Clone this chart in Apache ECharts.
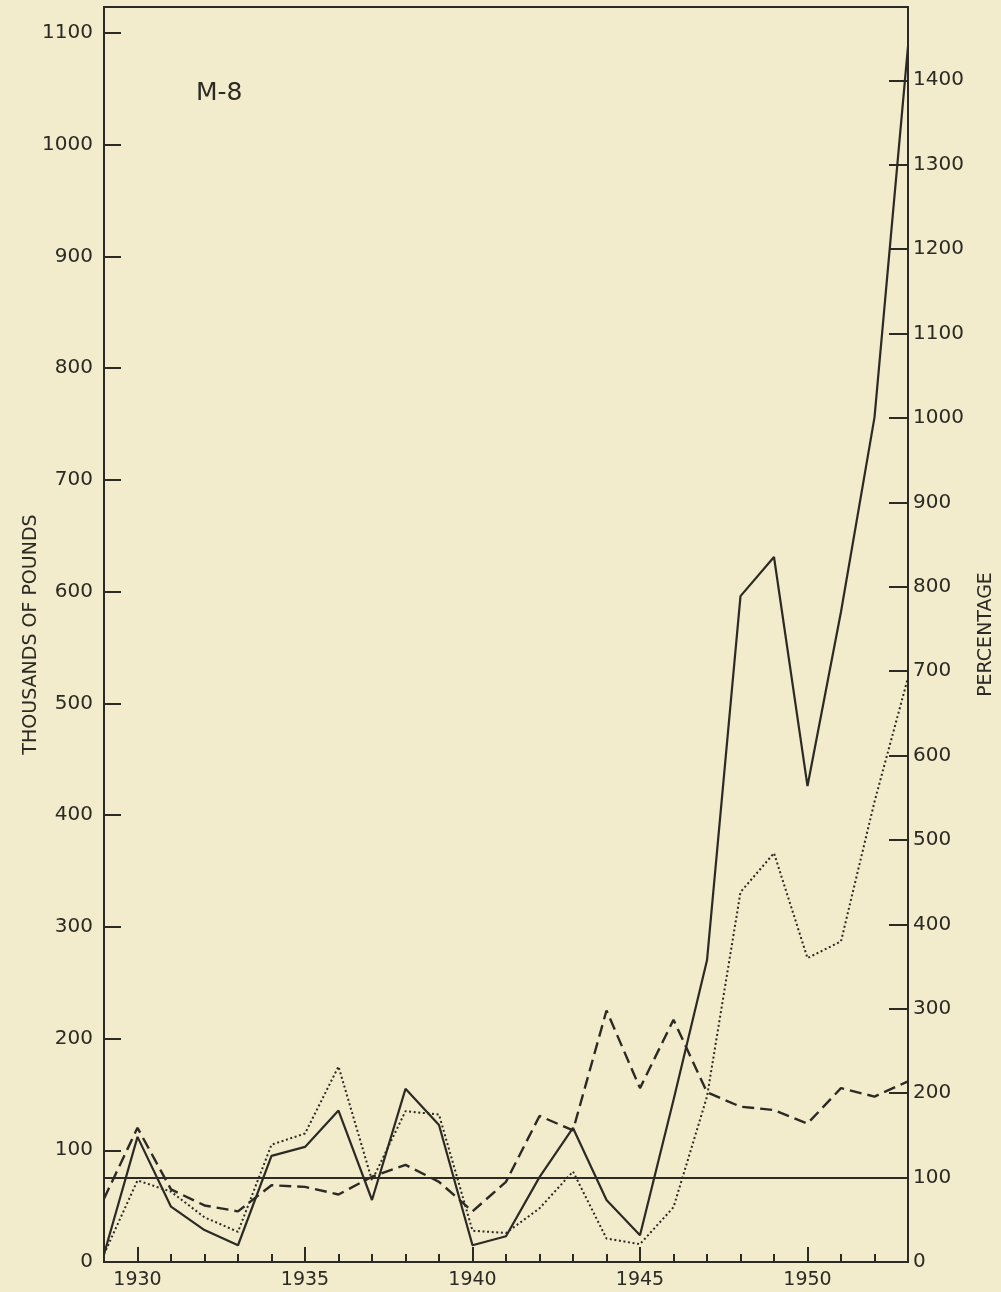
<!DOCTYPE html>
<html>
<head>
<meta charset="utf-8">
<script src="https://cdn.jsdelivr.net/npm/echarts@6/dist/echarts.min.js"></script>
<style>
html,body{margin:0;padding:0;background:#f2ebcc;}
#chart{width:1001px;height:1292px;}
</style>
</head>
<body>
<div id="chart"></div>
<script>
// ---- data ----
const years = ['1929','1930','1931','1932','1933','1934','1935','1936','1937','1938','1939','1940',
               '1941','1942','1943','1944','1945','1946','1947','1948','1949','1950','1951','1952','1953'];
// solid line (thousands of pounds, left axis)
const solidSeries = [7,112,49.5,28.6,15,95,103,135.5,55.5,155,122.6,15,
                     23,76,120,55.5,24,145,270,596,631,426,582,756,1088];
// dotted line (thousands of pounds, left axis)
const dottedSeries = [7,73,63,40,27,105,115,175,73,135,132,28,
                      26,48,81,21,16,49,148,331,366,272,287,412,523];
// dashed line (percentage, right axis)
const dashedSeries = [75,159,86,67,60,91,89,80,101,115,95,60,
                      95,173,156,298,206,287,201,184,180,164,206,196,214];
const baselinePct = 100;
const chartLabel = 'M-8';
const leftAxisName = 'THOUSANDS OF POUNDS';
const rightAxisName = 'PERCENTAGE';

// ---- chart ----
const ink = '#2b2a24';
const font = 'DejaVu Sans';
const chart = echarts.init(document.getElementById('chart'), null, {renderer:'canvas'});
const isMajor = (i, v) => (+v) % 5 === 0;
const plain = v => String(v);

chart.setOption({
  animation: false,
  backgroundColor: '#f2ebcc',
  title: {
    text: chartLabel, left: 191, top: 76,
    textStyle: {fontFamily: font, fontWeight: 'normal', fontSize: 25, color: ink}
  },
  grid: {left: 104, right: 93, top: 7, bottom: 30, containLabel: false, outerBoundsMode: 'none',
         show: true, borderColor: ink, borderWidth: 2, backgroundColor: 'transparent'},
  xAxis: [
    {
      type: 'category', data: years, boundaryGap: false, position: 'bottom',
      axisLine: {show: true, lineStyle: {color: ink, width: 2}},
      axisTick: {show: true, inside: true, length: 8, interval: 0, lineStyle: {color: ink, width: 2}},
      axisLabel: {show: false},
      splitLine: {show: false}
    },
    {
      type: 'category', data: years, boundaryGap: false, position: 'bottom',
      axisLine: {show: false},
      axisTick: {show: true, inside: true, length: 15, interval: isMajor, lineStyle: {color: ink, width: 2}},
      axisLabel: {show: true, interval: isMajor, margin: 9, fontFamily: font, fontSize: 19, color: ink},
      splitLine: {show: false}
    }
  ],
  yAxis: [
    {
      type: 'value', min: 0, max: 1123.3, interval: 100, position: 'left',
      axisLine: {show: true, lineStyle: {color: ink, width: 2}},
      axisTick: {show: true, inside: true, length: 17, lineStyle: {color: ink, width: 2}},
      axisLabel: {showMaxLabel: false, margin: 11, formatter: plain, fontFamily: font, fontSize: 20, color: ink},
      splitLine: {show: false},
      name: leftAxisName, nameLocation: 'middle', nameGap: 63, nameRotate: 90, nameMoveOverlap: false,
      nameTextStyle: {fontFamily: font, fontSize: 19, color: ink}
    },
    {
      type: 'value', min: 0, max: 1486.8, interval: 100, position: 'right',
      axisLine: {show: true, lineStyle: {color: ink, width: 2}},
      axisTick: {show: true, inside: true, length: 19, lineStyle: {color: ink, width: 2}},
      axisLabel: {showMaxLabel: false, margin: 5, formatter: plain, fontFamily: font, fontSize: 20, color: ink},
      splitLine: {show: false},
      name: rightAxisName, nameLocation: 'middle', nameGap: 69, nameRotate: 90,
      nameTextStyle: {fontFamily: font, fontSize: 19, color: ink}
    }
  ],
  series: [
    {
      type: 'line', data: solidSeries, xAxisIndex: 0, yAxisIndex: 0,
      symbol: 'none', lineStyle: {color: ink, width: 2.2, type: 'solid'}
    },
    {
      type: 'line', data: dottedSeries, xAxisIndex: 0, yAxisIndex: 0,
      symbol: 'none', lineStyle: {color: ink, width: 2, type: [2, 2.6]}
    },
    {
      type: 'line', data: dashedSeries, xAxisIndex: 0, yAxisIndex: 1,
      symbol: 'none', lineStyle: {color: ink, width: 2.4, type: [12, 6]},
      markLine: {
        silent: true, symbol: 'none', label: {show: false},
        lineStyle: {color: ink, width: 2, type: 'solid'},
        data: [{yAxis: baselinePct}]
      }
    }
  ]
});
</script>
</body>
</html>
